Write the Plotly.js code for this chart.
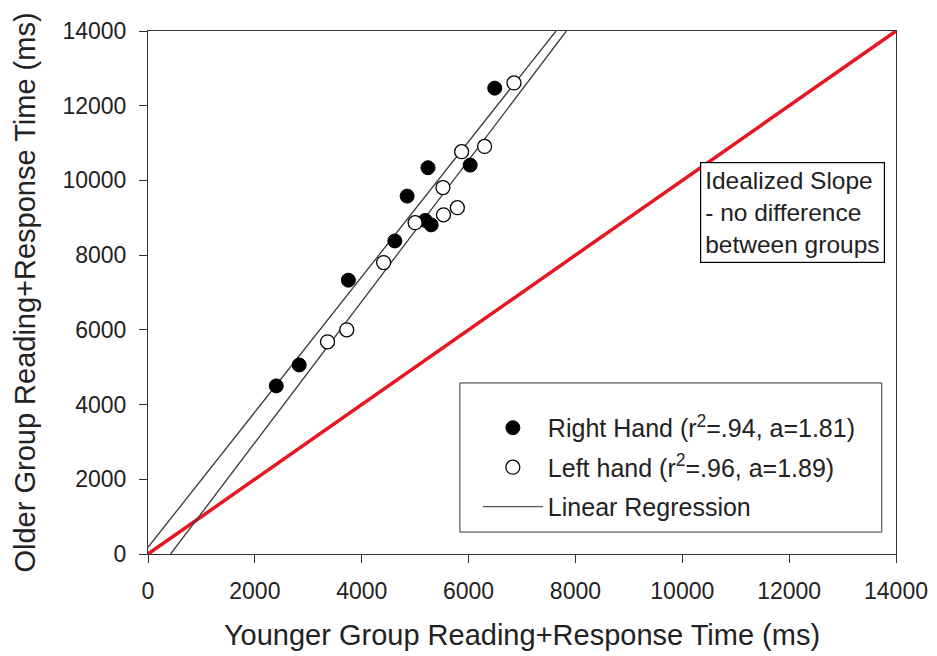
<!DOCTYPE html>
<html>
<head>
<meta charset="utf-8">
<script src="https://cdn.plot.ly/plotly-3.0.1.min.js"></script>
<style>html,body{margin:0;padding:0;background:#fff;}#chart{width:937px;height:656px;}</style>
</head>
<body>
<div id="chart"></div>
<script>
// Data
const rightX = [2400, 2830, 3750, 4620, 4850, 5190, 5300, 5240, 6030, 6490];
const rightY = [4500, 5060, 7330, 8380, 9580, 8930, 8810, 10340, 10410, 12470];
const leftX  = [3360, 3720, 4410, 5000, 5530, 5520, 5790, 5870, 6300, 6850];
const leftY  = [5680, 6000, 7800, 8870, 9080, 9810, 9270, 10770, 10910, 12610];
const regSlopes = [1.81, 1.89];      // right hand, left hand
const regIntercepts = [180, -800];
const idealX = [0, 14000];
const idealY = [0, 14000];
const axisMax = 14000;
const tickVals = [0, 2000, 4000, 6000, 8000, 10000, 12000, 14000];
const tickText = ['0', '2000', '4000', '6000', '8000', '10000', '12000', '14000'];

function regLine(a, b) {
  const x0 = Math.max(0, -b / a);
  const x1 = (axisMax - b) / a;
  return {x: [x0, x1], y: [a * x0 + b, a * x1 + b]};
}
const r1 = regLine(regSlopes[0], regIntercepts[0]);
const r2 = regLine(regSlopes[1], regIntercepts[1]);

const FONT = 'Liberation Sans, Arial, sans-serif';
const traces = [
  {x: idealX, y: idealY, mode: 'lines', line: {color: 'rgb(232,22,32)', width: 3.5}, showlegend: false, hoverinfo: 'skip'},
  {x: r1.x, y: r1.y, mode: 'lines', line: {color: '#3a3a3a', width: 1.3}, showlegend: false},
  {x: r2.x, y: r2.y, mode: 'lines', line: {color: '#3a3a3a', width: 1.3}, showlegend: false},
  {x: rightX, y: rightY, mode: 'markers', name: 'Right Hand (r<sup>2</sup>=.94, a=1.81)', legendgroup: 'a',
   marker: {color: '#000', size: 14, line: {color: '#000', width: 1}}},
  {x: leftX, y: leftY, mode: 'markers', name: 'Left hand (r<sup>2</sup>=.96, a=1.89)', legendgroup: 'b',
   marker: {color: '#fff', size: 14, line: {color: '#000', width: 1.3}}},
  {x: [null], y: [null], mode: 'lines', name: 'Linear Regression', legendgroup: 'c', line: {color: '#555', width: 1.3}}
];

const axisCommon = {
  range: [0, axisMax], tickvals: tickVals, ticktext: tickText, ticks: 'outside', ticklen: 8, tickwidth: 1,
  tickcolor: '#333', showline: true, linecolor: '#333', linewidth: 1, mirror: true,
  showgrid: false, zeroline: false, tickfont: {family: FONT, size: 23, color: '#222'}
};

const layout = {
  width: 937, height: 656,
  margin: {l: 148, r: 41, t: 31, b: 102},
  paper_bgcolor: '#fff', plot_bgcolor: '#fff',
  font: {family: FONT, color: '#222'},
  xaxis: Object.assign({}, axisCommon, {
    ticklabelstandoff: 8,
    title: {text: 'Younger Group Reading+Response Time (ms)', font: {family: FONT, size: 29, color: '#222'}, standoff: 22}
  }),
  yaxis: Object.assign({}, axisCommon, {
    ticklabelstandoff: 8,
    title: {text: 'Older Group Reading+Response Time (ms)', font: {family: FONT, size: 29, color: '#222'}, standoff: 18}
  }),
  showlegend: true,
  legend: {
    x: 0.441, y: 0.285, xanchor: 'left', yanchor: 'top',
    bgcolor: 'rgba(0,0,0,0)', borderwidth: 0, itemwidth: 60,
    traceorder: 'grouped', tracegroupgap: 4,
    font: {family: FONT, size: 25, color: '#222'}
  },
  shapes: [
    {type: 'rect', xref: 'paper', yref: 'paper', x0: 0.417, x1: 0.981, y0: 0.042, y1: 0.327,
     line: {color: '#333', width: 1}, fillcolor: '#fff', layer: 'below'}
  ],
  annotations: [
    {x: 12060, y: 9150, xref: 'x', yref: 'y', xanchor: 'center', yanchor: 'middle',
     text: 'Idealized Slope<br>- no difference<br>between groups', align: 'left', showarrow: false,
     font: {family: FONT, size: 24.5, color: '#222'}, bgcolor: '#fff', bordercolor: '#000', borderwidth: 1.2, borderpad: 4}
  ]
};

Plotly.newPlot('chart', traces, layout, {displayModeBar: false, staticPlot: true});
</script>
</body>
</html>
